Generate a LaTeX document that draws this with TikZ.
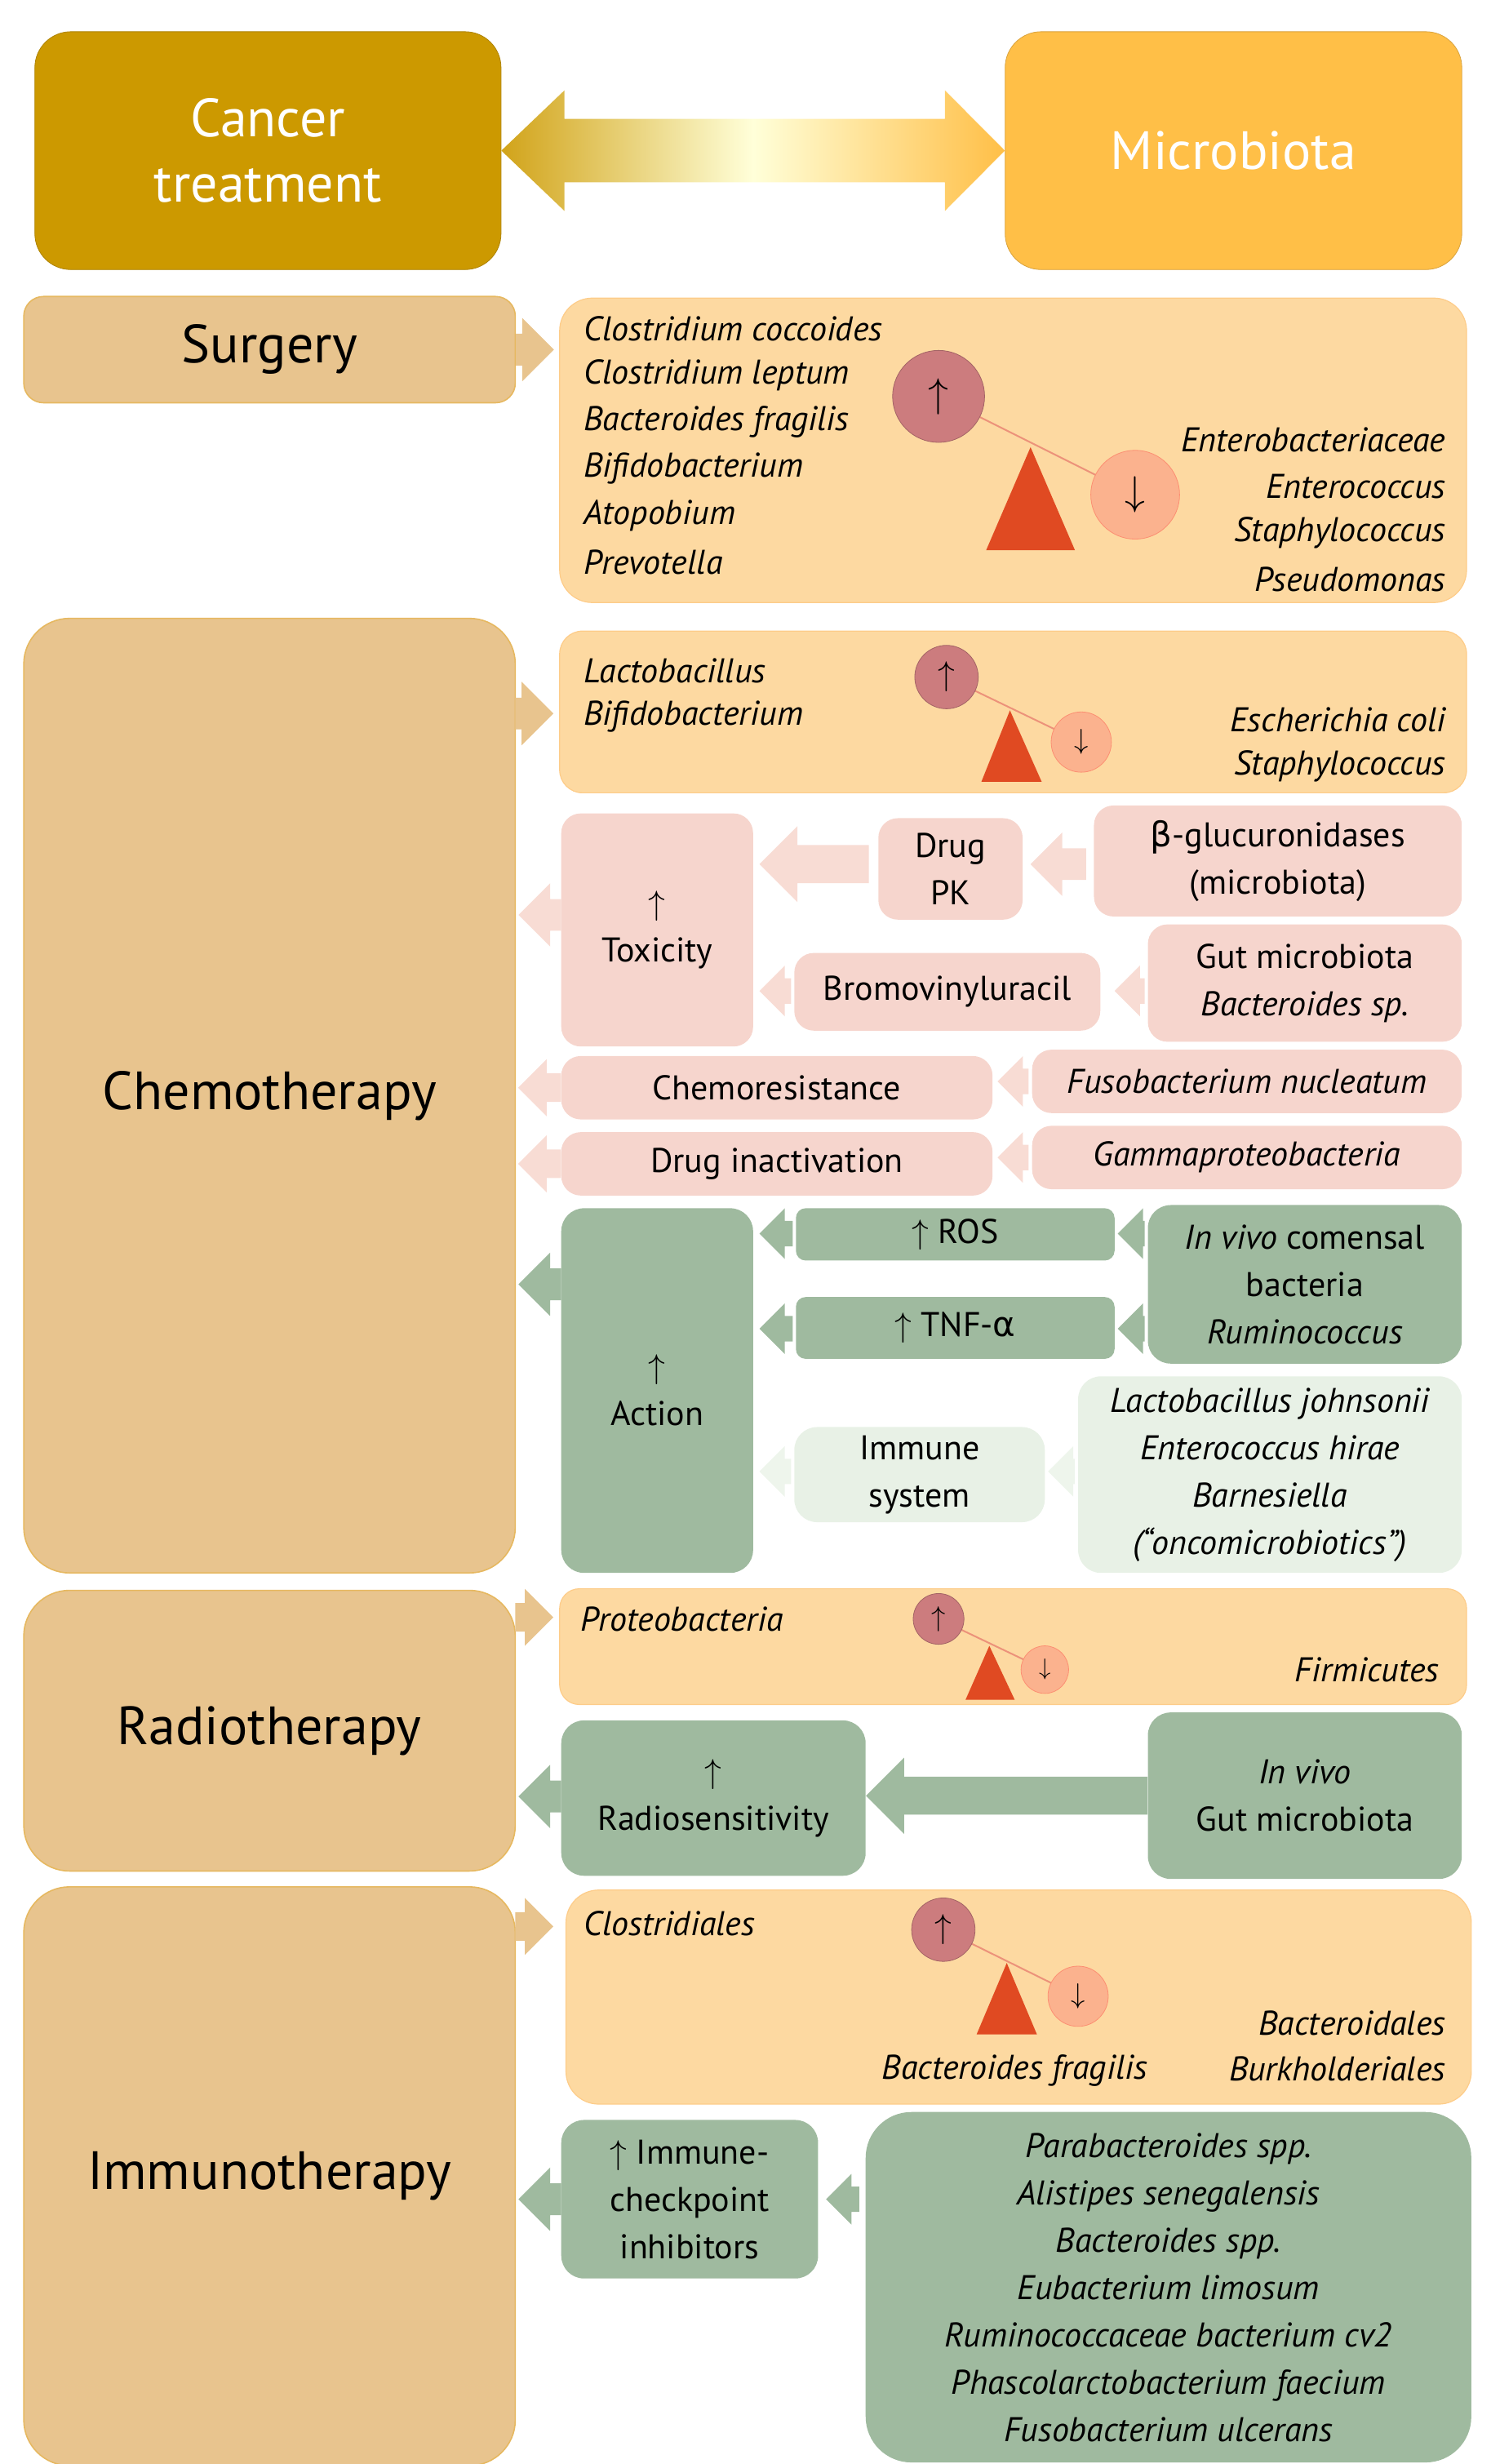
\documentclass[tikz,border=0pt]{standalone}
\usepackage{fontspec}
\setmainfont{PT Sans}
\newfontfamily\grk{DejaVu Sans}
\usetikzlibrary{calc,fit}
\definecolor{gold}{HTML}{CC9900}
\definecolor{micro}{HTML}{FFBF47}
\definecolor{tan}{HTML}{E8C48E}
\definecolor{tanline}{HTML}{E6B860}
\definecolor{peach}{HTML}{FDD9A1}
\definecolor{pink}{HTML}{F6D5CD}
\definecolor{pinkarr}{HTML}{F8DCD4}
\definecolor{green}{HTML}{9FBA9F}
\definecolor{lgreen}{HTML}{E8F1E6}
\definecolor{lgarr}{HTML}{EEF5EC}
\definecolor{upc}{HTML}{CC7C7E}
\definecolor{dnc}{HTML}{FBB28E}
\definecolor{tri}{HTML}{E04A22}
\newcommand\bbox[7]{\node[#6, fit={(#2,#3) (#4,#5)}, inner sep=0pt] (#1) {};
  \node[align=center, font=\tx] at (#1.center) {#7};}
\newcommand\blk[4]{\fill[#1] let \p1=#2, \p2=#3, \n1={ifthenelse(\x1>\x2,1,-1)}, \n2={#4*0.9713} in
 (\x2,\y1) -- (\x2+\n1*\n2 pt, \y1+\n2 pt) -- (\x2+\n1*\n2 pt, \y1+0.5*\n2 pt) -- (\x1, \y1+0.5*\n2 pt) --
 (\x1,\y1-0.5*\n2 pt) -- (\x2+\n1*\n2 pt,\y1-0.5*\n2 pt) -- (\x2+\n1*\n2 pt,\y1-\n2 pt) -- cycle;}
\newcommand\tx{\fontsize{21}{29}\selectfont}
\newcommand\ttl{\fontsize{33}{40}\selectfont}
\newcommand\scale[7]{%
  \draw[tri!60, line width=1pt] (#2,#3) -- (#5,#6);
  \node[circle, fill=upc, draw=upc!80!black, minimum size=#4*2*0.9713pt, inner sep=0pt, font=\fontsize{#4}{#4}\selectfont] (#1u) at (#2,#3) {$\uparrow$};
  \node[circle, fill=dnc, draw=dnc!80!red, minimum size=#7*2*0.9713pt, inner sep=0pt, font=\fontsize{#7}{#7}\selectfont] (#1d) at (#5,#6) {$\downarrow$};}
\begin{document}
\begin{tikzpicture}[x=0.9713pt,y=-0.9713pt,
  big/.style={rounded corners=28pt, fill=tan, draw=tanline, line width=0.8pt},
  cont/.style={rounded corners=20pt, fill=peach, draw=peach!85!orange, line width=0.6pt},
  pk/.style={rounded corners=12pt, fill=pink},
  gr/.style={rounded corners=14pt, fill=green},
  lg/.style={rounded corners=14pt, fill=lgreen},
  it/.style={font=\tx\itshape, inner sep=0pt}]
\useasboundingbox (0,0) rectangle (940,1554);
% header
\node[fit={(22,20) (316,170)}, inner sep=0, rounded corners=22pt, fill=gold, draw=gold!85!black] (ct) {};
\node[font=\ttl, text=white, align=center] at (ct) {Cancer\\treatment};
\node[fit={(634,20) (922,170)}, inner sep=0, rounded corners=22pt, fill=micro, draw=micro!85!black] (mi) {};
\node[font=\ttl, text=white] at (mi) {Microbiota};
\shade[left color=gold!90!white, right color=micro, middle color=yellow!15!white]
 (ct.east) -- (356,57) -- (356,75) -- (596,75) -- (596,57) -- (mi.west) -- (596,133) -- (596,115) -- (356,115) -- (356,133) -- cycle;
% Surgery
\node[big, rounded corners=12pt, fit={(15,187) (325,254)}, inner sep=0] (surg) {};
\node[font=\ttl] at (surg) {Surgery};
\node[cont, fit={(353,188) (925,380)}, inner sep=0] (sc) {};
\blk{tan}{(surg.east)}{($(surg.east)+(24,0)$)}{20}
\foreach \t [count=\i] in {Clostridium coccoides, Clostridium leptum, Bacteroides fragilis, Bifidobacterium, Atopobium, Prevotella}
  \node[it, anchor=west] at (368,178+29.4*\i) {\t};
\foreach \t [count=\i] in {Enterobacteriaceae, Enterococcus, Staphylococcus, Pseudomonas}
  \node[it, anchor=east] at (912,248+29.4*\i) {\t};
\fill[tri] (650,282) -- (678,347) -- (622,347) -- cycle;
\scale{s1}{592}{250}{29}{716}{312}{28}
% Chemotherapy
\node[big, fit={(15,390) (325,992)}, inner sep=0] (chemo) {};
\node[font=\ttl] at (chemo) {Chemotherapy};
\node[cont, rounded corners=14pt, fit={(353,398) (925,500)}, inner sep=0] (cc) {};
\blk{tan}{(325,450)}{(349,450)}{20}
\node[it, anchor=west] at (368,423) {Lactobacillus};
\node[it, anchor=west] at (368,452) {Bifidobacterium};
\node[it, anchor=east] at (912,454) {Escherichia coli};
\node[it, anchor=east] at (912,483) {Staphylococcus};
\fill[tri] (637,448) -- (657,493) -- (619,493) -- cycle;
\scale{s2}{597}{427}{20}{682}{468}{19}
% pink
\bbox{tox}{354}{513}{475}{660}{pk}{$\uparrow$\\Toxicity}
\bbox{dpk}{554}{516}{645}{580}{pk}{Drug\\PK}
\bbox{bgl}{690}{508}{922}{578}{pk}{{\grk β}-glucuronidases\\(microbiota)}
\bbox{bro}{501}{601}{694}{650}{pk}{Bromovinyluracil}
\bbox{gut}{724}{583}{922}{657}{pk}{Gut microbiota\\\itshape Bacteroides sp.}
\bbox{chr}{354}{666}{626}{706}{pk}{Chemoresistance}
\bbox{fus}{651}{662}{922}{702}{pk}{\itshape Fusobacterium nucleatum}
\bbox{din}{354}{714}{626}{754}{pk}{Drug inactivation}
\bbox{gam}{651}{710}{922}{750}{pk}{\itshape Gammaproteobacteria}
\blk{pinkarr}{(354,577)}{(327,577)}{20}
\blk{pinkarr}{(548,545)}{(479,545)}{24}
\blk{pinkarr}{(685,545)}{(650,545)}{20}
\blk{pinkarr}{(722,625)}{(703,625)}{16}
\blk{pinkarr}{(499,625)}{(479,625)}{16}
\blk{pinkarr}{(chr.west)}{($(chr.west)+(-27,0)$)}{18}
\blk{pinkarr}{($(fus.west)+(-2,0)$)}{($(chr.east)+(3,0)$)}{16}
\blk{pinkarr}{(din.west)}{($(din.west)+(-27,0)$)}{18}
\blk{pinkarr}{($(gam.west)+(-2,0)$)}{($(din.east)+(3,0)$)}{16}
% green
\bbox{act}{354}{762}{475}{992}{gr}{$\uparrow$\\Action}
\bbox{ros}{502}{762}{703}{795}{gr,rounded corners=6pt}{$\uparrow$ ROS}
\bbox{tnf}{502}{818}{703}{857}{gr,rounded corners=6pt}{$\uparrow$ TNF-{\grk α}}
\bbox{com}{724}{760}{922}{860}{gr}{\itshape In vivo\upshape\ comensal\\bacteria\\\itshape Ruminococcus}
\bbox{imm}{501}{900}{659}{960}{lg}{Immune\\system}
\bbox{lac}{680}{868}{922}{992}{lg}{\itshape Lactobacillus johnsonii\\\itshape Enterococcus hirae\\\itshape Barnesiella\\\itshape (“oncomicrobiotics”)}
\blk{green}{(354,810)}{(327,810)}{20}
\blk{green}{(500,778)}{(479,778)}{16}
\blk{green}{(722,778)}{(705,778)}{16}
\blk{green}{(500,838)}{(479,838)}{16}
\blk{green}{(722,838)}{(705,838)}{16}
\blk{lgarr}{(499,928)}{(479,928)}{16}
\blk{lgarr}{(678,928)}{(661,928)}{16}
% Radiotherapy
\node[big, fit={(15,1003) (325,1180)}, inner sep=0] (radio) {};
\node[font=\ttl] at (radio) {Radiotherapy};
\blk{tan}{(325,1020)}{(349,1020)}{18}
\node[cont, rounded corners=12pt, fit={(353,1002) (925,1075)}, inner sep=0] (rc) {};
\node[it, anchor=west] at (366,1021) {Proteobacteria};
\node[it, anchor=east] at (908,1053) {Firmicutes};
\fill[tri] (624,1038) -- (640,1072) -- (609,1072) -- cycle;
\scale{s3}{592}{1021}{16}{659}{1053}{15}
\bbox{rad}{354}{1085}{546}{1183}{gr}{$\uparrow$\\Radiosensitivity}
\bbox{ivg}{724}{1080}{922}{1185}{gr}{\itshape In vivo\\Gut microbiota}
\blk{green}{(354,1133)}{(327,1133)}{20}
\blk{green}{(ivg.west)}{(rad.east)}{24}
% Immunotherapy
\node[big, fit={(15,1190) (325,1555)}, inner sep=0] (immu) {};
\node[font=\ttl] at (immu) {Immunotherapy};
\blk{tan}{(325,1215)}{(349,1215)}{18}
\node[cont, fit={(357,1192) (928,1327)}, inner sep=0] (ic) {};
\node[it, anchor=west] at (368,1213) {Clostridiales};
\node[it] at (640,1306) {Bacteroides fragilis};
\node[it, anchor=east] at (912,1276) {Bacteroidales};
\node[it, anchor=east] at (912,1305) {Burkholderiales};
\fill[tri] (635,1238) -- (654,1283) -- (616,1283) -- cycle;
\scale{s4}{595}{1217}{20}{680}{1259}{19}
\bbox{ici}{354}{1337}{516}{1437}{gr}{$\uparrow$ Immune-\\checkpoint\\inhibitors}
\bbox{bgr}{546}{1332}{928}{1553}{gr,rounded corners=28pt}{\itshape Parabacteroides spp.\\\itshape Alistipes senegalensis\\\itshape Bacteroides spp.\\\itshape Eubacterium limosum\\\itshape Ruminococcaceae bacterium cv2\\\itshape Phascolarctobacterium faecium\\\itshape Fusobacterium ulcerans}
\blk{green}{(354,1387)}{(327,1387)}{20}
\blk{green}{(542,1387)}{(521,1387)}{16}
\end{tikzpicture}
\end{document}
